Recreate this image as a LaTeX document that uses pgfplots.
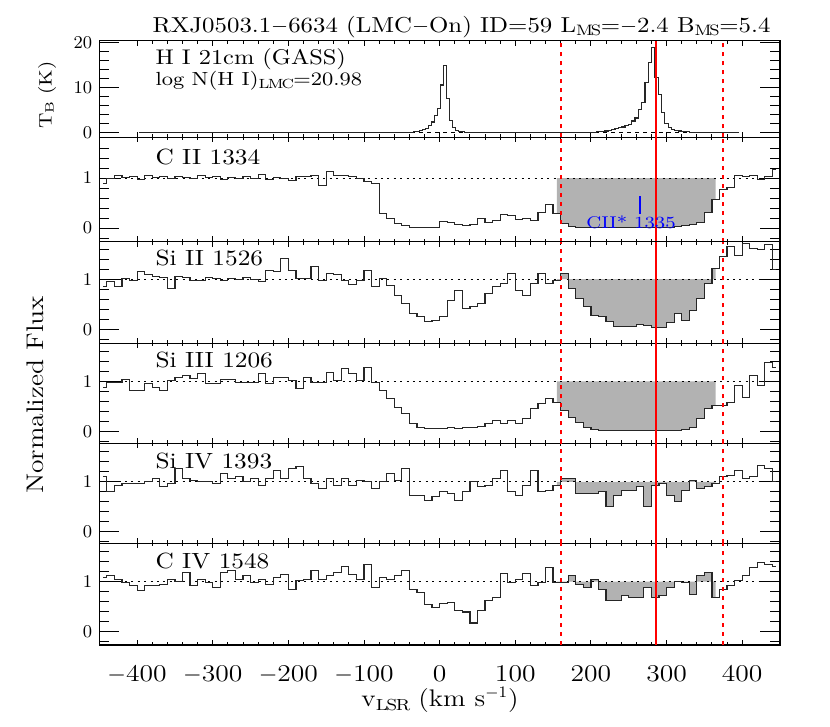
\documentclass[border=0pt]{standalone}
\usepackage{fontspec}
\setmainfont{Latin Modern Roman}[FakeStretch=1.15]
\usepackage{pgfplots}
\pgfplotsset{compat=1.18}
\usepackage{pgfplotstable}

% v (km/s), normalized flux of each ion
\pgfplotstableread{
v    cii  siii siiii siiv civ
-445 0.89 0.85 0.88 1.10 1.09
-435 1.00 0.95 0.98 0.80 1.12
-425 1.05 0.86 0.98 0.93 1.05
-415 1.02 1.01 1.03 0.97 0.99
-405 1.04 0.98 0.81 0.97 0.92
-395 0.98 1.15 0.81 0.97 0.82
-385 1.06 1.10 0.95 1.00 0.92
-375 1.01 1.06 0.88 1.07 0.92
-365 1.03 1.04 0.81 0.90 0.95
-355 0.99 0.81 1.01 0.97 1.05
-345 1.04 1.05 1.08 1.27 1.00
-335 1.02 1.04 1.11 1.07 1.19
-325 1.00 0.98 1.05 1.03 0.92
-315 1.06 0.98 1.15 1.00 1.05
-305 1.01 1.03 0.95 1.00 0.99
-295 1.03 1.02 0.95 0.97 0.89
-285 0.97 0.98 1.03 1.17 1.19
-275 1.02 1.02 1.03 1.07 1.22
-265 1.00 1.00 0.98 1.10 1.05
-255 1.04 1.03 0.98 1.00 1.12
-245 0.99 1.00 0.98 1.07 0.99
-235 1.08 0.95 1.15 0.93 1.05
-225 0.97 1.18 0.95 1.07 0.95
-215 1.02 1.16 1.08 1.23 1.08
-205 1.00 1.41 1.08 1.07 1.15
-195 0.96 1.18 1.01 1.27 0.85
-185 1.04 1.01 0.85 1.30 1.02
-175 1.03 1.02 1.08 1.07 1.05
-165 1.06 1.25 0.98 0.97 1.22
-155 0.86 0.98 0.98 0.87 1.05
-145 1.14 1.11 1.18 1.07 1.12
-135 1.05 1.10 1.01 0.93 1.18
-125 1.05 0.98 1.25 1.07 1.31
-115 1.03 0.90 1.15 0.93 1.15
-105 0.99 0.98 1.01 1.03 1.05
-95  0.93 1.18 1.28 1.00 1.35
-85  0.90 0.85 0.98 0.87 0.89
-75  0.30 1.01 0.82 1.00 1.09
-65  0.20 0.88 0.65 1.17 1.05
-55  0.10 0.68 0.48 1.03 1.12
-45  0.06 0.51 0.35 1.27 1.22
-35  0.02 0.31 0.15 0.73 0.85
-25  0.01 0.25 0.07 0.73 0.79
-15  0.01 0.15 0.05 0.63 0.55
-5   0.02 0.18 0.06 0.70 0.49
5    0.13 0.25 0.06 0.80 0.57
15   0.12 0.58 0.07 0.77 0.59
25   0.07 0.78 0.06 0.63 0.42
35   0.05 0.41 0.08 0.80 0.39
45   0.08 0.45 0.08 1.00 0.17
55   0.19 0.51 0.10 0.90 0.42
65   0.12 0.71 0.15 0.93 0.62
75   0.16 0.85 0.21 1.07 0.69
85   0.28 0.91 0.15 1.23 1.17
95   0.25 1.11 0.21 0.80 0.99
105  0.18 0.78 0.15 0.73 1.05
115  0.20 0.68 0.25 0.93 1.17
125  0.15 0.91 0.45 1.23 0.92
135  0.32 1.11 0.55 0.80 0.99
145  0.48 0.91 0.65 0.83 1.29
155  0.29 0.98 0.58 0.93 0.99
165  0.10 1.11 0.41 1.07 0.99
175  0.04 0.81 0.28 1.07 1.13
185  0.02 0.61 0.18 0.77 0.95
195  0.02 0.45 0.07 0.77 0.89
205  0.01 0.28 0.03 0.77 1.05
215  0.02 0.25 0.02 0.80 0.85
225  0.01 0.15 0.02 0.50 0.63
235  0.01 0.06 0.02 0.73 0.63
245  0.02 0.06 0.01 0.83 0.72
255  0.01 0.06 0.01 0.83 0.69
265  0.02 0.10 0.02 0.90 0.69
275  0.01 0.08 0.01 0.50 0.89
285  0.02 0.03 0.01 0.93 0.69
295  0.01 0.03 0.01 0.97 0.72
305  0.02 0.13 0.01 0.73 0.89
315  0.03 0.31 0.02 0.61 1.00
325  0.06 0.18 0.04 0.83 0.99
335  0.08 0.38 0.08 1.03 0.75
345  0.12 0.61 0.25 0.87 1.12
355  0.32 0.91 0.45 0.90 1.19
365  0.57 1.21 0.51 0.97 0.69
375  0.78 1.45 0.51 1.10 0.85
385  0.82 1.65 0.58 1.13 0.92
395  1.05 1.48 0.91 1.23 1.02
405  1.04 1.71 0.68 1.07 1.12
415  1.05 1.62 1.11 1.10 1.29
425  0.98 1.60 0.91 1.33 1.39
435  1.03 1.70 1.38 1.27 1.35
445  1.18 1.20 1.28 1.00 1.30
}\spec

% HI 21cm brightness temperature (K)
\pgfplotstableread{
v   tb
-397 0
-300 0
-200 0
-100 0
-60  0
-45 0.05
-41 0.08
-37 0.12
-33 0.20
-29 0.35
-25 0.55
-21 0.75
-17 1.0
-13 1.6
-9  2.4
-5  3.9
-1  5.4
3   10.6
7   15.0
11  7.6
15  2.8
19  1.1
23  0.55
27  0.3
31  0.2
35  0.12
39  0.08
43  0.05
47  0.03
51  0.02
55  0
100 0
150 0
175 0.02
190 0.05
203 0.15
212 0.2
216.4 0.3
220.8 0.4
225.2 0.5
229.6 0.7
234.0 0.9
238.4 1.1
242.8 1.3
247.2 1.6
251.6 1.9
256.0 2.6
260.4 3.3
264.8 5.2
269.2 6.7
273.6 11.1
278.0 15.6
282.4 19.0
286.8 12.2
291.2 8.5
295.6 4.5
300.0 2.0
304.4 1.2
308.8 0.8
313.2 0.5
317.6 0.4
322.0 0.3
326.4 0.2
335 0.1
345 0.05
355 0
396 0
}\hi

\pgfplotsset{
  panel/.style={
    scale only axis, width=340.35pt,
    at={(49.65pt,#1)}, anchor=south west,
    xmin=-450, xmax=450,
    xtick={-400,-300,...,400}, minor x tick num=4,
    xticklabels={},
    axis line style={line width=0.6pt},
    every tick/.style={black, line width=0.5pt},
    major tick length=10pt, minor tick length=5pt,
    every major x tick/.append style={/pgfplots/major tick length=2.6pt},
    every minor x tick/.append style={/pgfplots/minor tick length=1.5pt},
    yticklabel style={font=\fontsize{9}{10}\selectfont},
  },
}
\tikzset{reddot/.style={draw=red, line width=1.1pt, dash pattern=on 2pt off 2.5pt}}

% integration limits (dotted) and LMC velocity (solid)
\newcommand{\redlines}{%
  \draw[reddot] ({axis cs:160.5,0} |- {rel axis cs:0,0}) -- ({axis cs:160.5,0} |- {rel axis cs:0,1});
  \draw[reddot] ({axis cs:375,0} |- {rel axis cs:0,0}) -- ({axis cs:375,0} |- {rel axis cs:0,1});
  \draw[red, line width=1pt] ({axis cs:285.5,0} |- {rel axis cs:0,0}) -- ({axis cs:285.5,0} |- {rel axis cs:0,1});
}

% #1 bottom, #2 height, #3 ymin, #4 ymax, #5 column, #6 label, #7 extra
\newcommand{\fluxpanel}[7]{%
\begin{axis}[panel={#1}, height=#2, ymin=#3, ymax=#4,
    ytick={0,1}, minor ytick={-0.2,0.2,0.4,0.6,0.8,1.2,1.4,1.6}, #7]
  \addplot[fill=black!30, draw=none, const plot mark mid,
      restrict x to domain=150:370] table[x=v, y=#5] {\spec}
      -- (axis cs:365,1) -- (axis cs:155,1) -- cycle;
  \addplot[black, line width=0.5pt, dash pattern=on 1pt off 2.2pt] coordinates {(-450,1)(450,1)};
  \addplot[black!85, line width=0.6pt, const plot mark mid] table[x=v, y=#5] {\spec};
  \redlines
  \node[anchor=west, font=\fontsize{11}{13}\selectfont] at (axis cs:-385,1.42) {#6};
\end{axis}}

\begin{document}
\begin{tikzpicture}
\useasboundingbox (0,0) rectangle (415pt,363.5pt);

% H I 21cm
\begin{axis}[panel={294.85pt}, height=48.3pt, ymin=-1, ymax=20.45,
    ytick={0,10,20}, minor y tick num=4]
  \addplot[black, line width=0.4pt, dash pattern=on 2pt off 2pt] coordinates {(-397,0)(396,0)};
  \addplot[black!85, line width=0.6pt, const plot mark mid] table[x=v, y=tb] {\hi};
  \redlines
  \node[anchor=west, font=\fontsize{10.6}{12}\selectfont] at (axis cs:-385,16.3) {H I 21cm (GASS)};
  \node[anchor=west, font=\fontsize{9.5}{11}\selectfont] at (axis cs:-385,11.6) {log N(H I)$_{\mathrm{LMC}}$=20.98};
\end{axis}

\fluxpanel{242.65pt}{52.2pt}{-0.27}{1.818}{cii}{C II 1334}{}
\fluxpanel{191.85pt}{50.8pt}{-0.28}{1.75}{siii}{Si II 1526}{}
\fluxpanel{141.85pt}{50pt}{-0.24}{1.76}{siiii}{Si III 1206}{}
\fluxpanel{91.85pt}{50pt}{-0.23}{1.77}{siiv}{Si IV 1393}{}
\fluxpanel{41pt}{50.85pt}{-0.27}{1.77}{civ}{C IV 1548}{%
    xticklabels={$-$400,$-$300,$-$200,$-$100,0,100,200,300,400},
    xticklabel style={font=\fontsize{12}{14}\selectfont, yshift=-6.5pt}}

% CII* marker in the C II panel
\begin{axis}[scale only axis, width=340.35pt, height=52.2pt,
    at={(49.65pt,242.65pt)}, anchor=south west,
    xmin=-450, xmax=450, ymin=-0.27, ymax=1.818, hide axis]
  \addplot[blue, line width=1pt] coordinates {(265,0.28)(265,0.64)};
  \node[blue, font=\fontsize{8.5}{10}\selectfont] at (axis cs:253,0.12) {CII* 1335};
\end{axis}

\node[font=\fontsize{10.8}{12}\selectfont] at (230.75pt,350pt)
  {RXJ0503.1$-$6634 (LMC$-$On) ID=59 L$_{\mathrm{MS}}$=$-$2.4 B$_{\mathrm{MS}}$=5.4};
\node[rotate=90, font=\fontsize{9}{11}\selectfont] at (23.5pt,316pt) {T$_{\mathrm{B}}$ (K)};
\node[rotate=90, font=\fontsize{12}{14}\selectfont] at (17.5pt,166pt) {Normalized Flux};
\node[font=\fontsize{12}{14}\selectfont] at (220pt,13.5pt) {v$_{\mathrm{LSR}}$ (km s$^{-1}$)};
\end{tikzpicture}
\end{document}
